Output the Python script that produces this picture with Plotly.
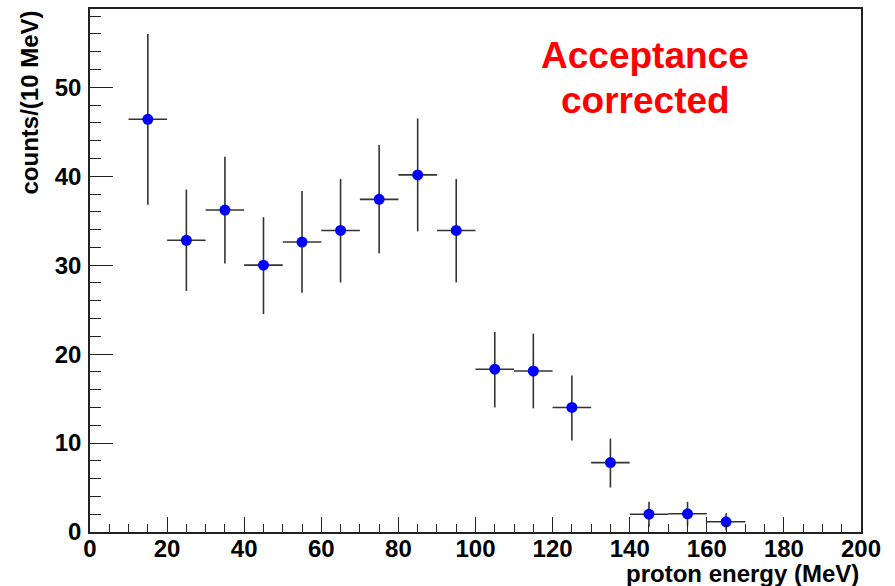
import plotly.graph_objects as go

energy = [15, 25, 35, 45, 55, 65, 75, 85, 95, 105, 115, 125, 135, 145, 155, 165]
counts = [46.4, 32.8, 36.2, 30.0, 32.6, 33.9, 37.4, 40.15, 33.9, 18.3, 18.1, 14.0, 7.8, 2.0, 2.05, 1.15]
err_up = [9.6, 5.7, 6.0, 5.4, 5.75, 5.8, 6.1, 6.35, 5.8, 4.2, 4.2, 3.6, 2.7, 1.4, 1.35, 0.95]
err_dn = [9.6, 5.7, 6.0, 5.5, 5.7, 5.85, 6.1, 6.35, 5.85, 4.3, 4.2, 3.7, 2.8, 1.4, 1.35, 0.95]
half_bin = [5] * len(energy)

x_title = "proton energy (MeV)"
y_title = "counts/(10 MeV)"
label_lines = ["Acceptance", "corrected"]

font_family = "Liberation Sans, Arial, Helvetica, sans-serif"

fig = go.Figure()
fig.add_trace(go.Scatter(
    x=energy, y=counts, mode="markers",
    marker=dict(color="#0000ff", size=11, line=dict(width=0)),
    error_x=dict(type="data", array=half_bin, symmetric=True, width=0,
                 color="#333333", thickness=1.6),
    error_y=dict(type="data", array=err_up, arrayminus=err_dn, symmetric=False,
                 width=0, color="#333333", thickness=1.6),
    showlegend=False,
))

axis_common = dict(
    showgrid=False, zeroline=False, showline=True, linecolor="#222222",
    linewidth=1.6, mirror=True, ticks="inside", tickcolor="#222222",
    tickwidth=1.4, automargin=False,
    tickfont=dict(family=font_family, size=24, color="black", weight="bold"),
)

fig.update_xaxes(range=[0, 200], dtick=20, tick0=0, ticklen=15,
                 ticklabelstandoff=-6,
                 minor=dict(ticks="inside", dtick=5, ticklen=8,
                            tickcolor="#222222", tickwidth=1.4),
                 **axis_common)
fig.update_yaxes(range=[0, 58.8], dtick=10, tick0=0, ticklen=23,
                 ticklabelstandoff=2,
                 minor=dict(ticks="inside", dtick=2, ticklen=11,
                            tickcolor="#222222", tickwidth=1.4),
                 **axis_common)

fig.add_annotation(text=x_title, xref="paper", yref="paper", x=1.0, y=0,
                   xanchor="right", yanchor="top", yshift=-26, showarrow=False,
                   font=dict(family=font_family, size=24, color="black", weight="bold"))
fig.add_annotation(text=y_title, xref="paper", yref="paper", x=0, y=1.0,
                   xanchor="right", yanchor="top", xshift=-46, textangle=-90,
                   showarrow=False,
                   font=dict(family=font_family, size=24, color="black", weight="bold"))
fig.add_annotation(text=label_lines[0], xref="x", yref="paper", x=144, y=1.0,
                   xanchor="center", yanchor="middle", yshift=-46, showarrow=False,
                   font=dict(family=font_family, size=37, color="#ff0000", weight="bold"))
fig.add_annotation(text=label_lines[1], xref="x", yref="paper", x=144, y=1.0,
                   xanchor="center", yanchor="middle", yshift=-91, showarrow=False,
                   font=dict(family=font_family, size=37, color="#ff0000", weight="bold"))

fig.update_layout(
    width=895, height=586,
    margin=dict(l=90, r=34, t=9, b=54, autoexpand=False),
    paper_bgcolor="white", plot_bgcolor="white",
)

fig.write_html("out.html", config={"displayModeBar": False},
               post_script="document.body.style.margin='0';document.body.style.overflow='hidden';")
